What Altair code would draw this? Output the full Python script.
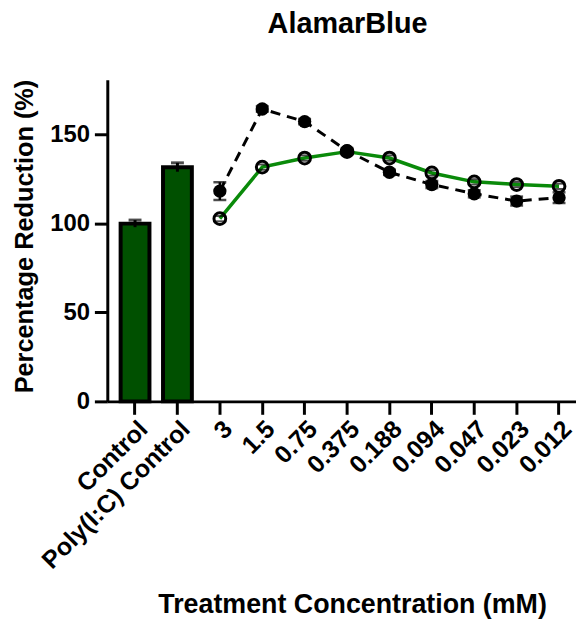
import altair as alt
import pandas as pd

F = "Liberation Sans"

cats = ["Control", "Poly(I:C) Control", "3", "1.5", "0.75", "0.375",
        "0.188", "0.094", "0.047", "0.023", "0.012"]

bar_cats = ["Control", "Poly(I:C) Control"]
bar_vals = [100.0, 131.7]
bar_err = [2.0, 2.5]

conc = ["3", "1.5", "0.75", "0.375", "0.188", "0.094", "0.047", "0.023", "0.012"]
filled_vals = [118.3, 164.5, 157.4, 141.0, 128.9, 122.0, 116.8, 112.7, 114.6]
filled_err = [5.0, 1.5, 1.5, 1.5, 1.5, 2.0, 2.0, 2.5, 3.0]
open_vals = [102.8, 131.8, 136.9, 140.5, 136.9, 128.5, 123.5, 122.0, 121.0]
open_err = [1.5, 1.5, 1.5, 1.5, 1.5, 1.5, 1.5, 1.5, 1.5]

df_bar = pd.DataFrame({"cat": bar_cats, "val": bar_vals})
df_bar["lo"] = df_bar["val"] - pd.Series(bar_err)
df_bar["hi"] = df_bar["val"] + pd.Series(bar_err)

df_f = pd.DataFrame({"cat": conc, "val": filled_vals})
df_f["lo"] = df_f["val"] - pd.Series(filled_err)
df_f["hi"] = df_f["val"] + pd.Series(filled_err)

df_o = pd.DataFrame({"cat": conc, "val": open_vals})
df_o["lo"] = df_o["val"] - pd.Series(open_err)
df_o["hi"] = df_o["val"] + pd.Series(open_err)

x_enc = alt.X(
    "cat:N",
    sort=cats,
    scale=alt.Scale(domain=cats, paddingInner=0.32, paddingOuter=0.187, align=0.84),
    axis=alt.Axis(
        title="Treatment Concentration (mM)",
        labelAngle=-45,
        labelFontSize=25,
        labelPadding=2,
        labelOverlap=False,
        labelLimit=400,
        titleFontSize=27,
        titleX=246.5,
        titleY=213,
        titleAlign="center",
        titleBaseline="alphabetic",
        titleAngle=0,
    ),
)
y_scale = alt.Scale(domain=[0, 181], nice=False)
y_enc = alt.Y(
    "val:Q",
    scale=y_scale,
    axis=alt.Axis(
        title="Percentage Reduction (%)",
        values=[0, 50, 100, 150],
        labelFontSize=24,
        labelPadding=5,
        titleFontSize=25.5,
        titleX=-75,
        titleY=157.5,
        titleAngle=-90,
        titleAlign="center",
        titleBaseline="alphabetic",
    ),
)

bars = alt.Chart(df_bar).mark_bar(
    color="#005000", stroke="black", strokeWidth=4
).encode(x=x_enc, y=y_enc)

bar_rule = alt.Chart(df_bar).mark_rule(color="black", strokeWidth=3).encode(
    x=x_enc, y=alt.Y("lo:Q", scale=y_scale), y2="hi:Q")
bar_cap = alt.Chart(df_bar).mark_tick(color="black", thickness=3, size=13).encode(
    x=x_enc, y=alt.Y("hi:Q", scale=y_scale))

green_line = alt.Chart(df_o).mark_line(color="#0a8a0a", strokeWidth=3.5).encode(
    x=x_enc, y=y_enc)
dash_line = alt.Chart(df_f).mark_line(
    color="black", strokeWidth=3, strokeDash=[10, 7]).encode(x=x_enc, y=y_enc)

f_pts = alt.Chart(df_f).mark_circle(color="black", size=180, opacity=1).encode(
    x=x_enc, y=y_enc)
f_rule = alt.Chart(df_f).mark_rule(color="black", strokeWidth=2.5).encode(
    x=x_enc, y=alt.Y("lo:Q", scale=y_scale), y2="hi:Q")
f_cap_lo = alt.Chart(df_f).mark_tick(color="black", thickness=2.5, size=13).encode(
    x=x_enc, y=alt.Y("lo:Q", scale=y_scale))
f_cap_hi = alt.Chart(df_f).mark_tick(color="black", thickness=2.5, size=13).encode(
    x=x_enc, y=alt.Y("hi:Q", scale=y_scale))

o_pts = alt.Chart(df_o).mark_point(
    shape="circle", filled=False, color="black", strokeWidth=3, size=140, opacity=1
).encode(x=x_enc, y=y_enc)
o_cap_lo = alt.Chart(df_o).mark_tick(color="black", thickness=2, size=11).encode(
    x=x_enc, y=alt.Y("lo:Q", scale=y_scale))
o_cap_hi = alt.Chart(df_o).mark_tick(color="black", thickness=2, size=11).encode(
    x=x_enc, y=alt.Y("hi:Q", scale=y_scale))

chart = alt.layer(
    bars, bar_rule, bar_cap, green_line, dash_line,
    f_pts, f_rule, f_cap_lo, f_cap_hi, o_pts, o_cap_lo, o_cap_hi,
).properties(
    width=472,
    height=324,
    background="white",
    title=alt.TitleParams(
        "AlamarBlue", font=F, fontSize=29, fontWeight="bold", color="black",
        anchor="middle", baseline="alphabetic", offset=17, dx=6,
    ),
    autosize=alt.AutoSizeParams(type="none"),
    padding={"left": 100, "top": 70, "right": 0, "bottom": 218},
).configure_view(
    stroke=None
).configure_axis(
    grid=False,
    domainColor="black",
    domainWidth=3,
    tickColor="black",
    tickWidth=3,
    tickSize=13,
    labelFont=F,
    labelFontWeight="bold",
    labelColor="black",
    titleFont=F,
    titleFontWeight="bold",
    titleColor="black",
)

chart.save("out.html", embed_options={"renderer": "svg", "actions": False})
